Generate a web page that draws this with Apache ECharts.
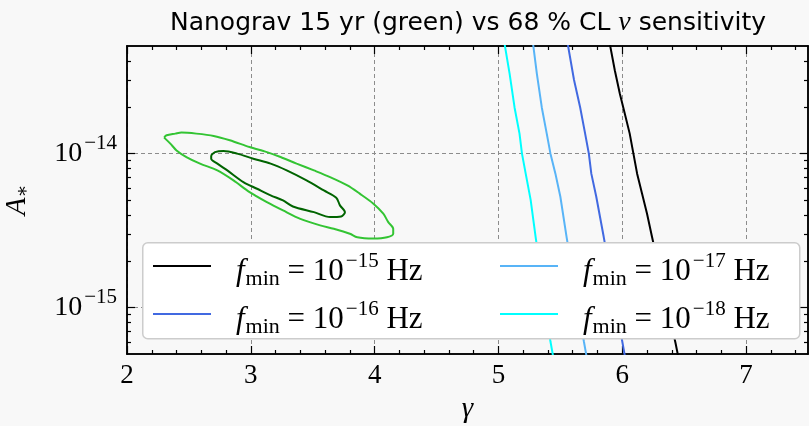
<!DOCTYPE html>
<html>
<head>
<meta charset="utf-8">
<title>Nanograv 15 yr vs nu sensitivity</title>
<script src="https://cdn.jsdelivr.net/npm/echarts@6/dist/echarts.min.js"></script>
<style>
  html, body { margin: 0; padding: 0; background: #f8f8f8; }
  #chart { width: 809px; height: 426px; }
</style>
</head>
<body>
<div id="chart"></div>
<script>
// values: gamma on x, log10(A*) on y
var gammaF15 = [5.90, 5.94, 5.98, 6.02, 6.06, 6.09, 6.12, 6.16, 6.20, 6.24, 6.43, 6.45];
var logAF15  = [-13.29, -13.46, -13.61, -13.74, -13.87, -14.00, -14.13, -14.26, -14.39, -14.54, -15.23, -15.31];
var gammaF16 = [5.56, 5.61, 5.66, 5.70, 5.73, 5.75, 5.79, 5.85, 6.00, 6.02];
var logAF16  = [-13.29, -13.52, -13.70, -13.87, -14.00, -14.13, -14.28, -14.54, -15.22, -15.31];
var gammaF17 = [5.28, 5.31, 5.35, 5.39, 5.42, 5.46, 5.50, 5.55, 5.69, 5.71];
var logAF17  = [-13.29, -13.48, -13.70, -13.87, -14.00, -14.13, -14.28, -14.54, -15.22, -15.31];
var gammaF18 = [5.05, 5.09, 5.13, 5.17, 5.19, 5.22, 5.26, 5.30, 5.42, 5.44];
var logAF18  = [-13.29, -13.48, -13.70, -13.87, -14.00, -14.13, -14.30, -14.54, -15.22, -15.31];

// nanograv contours (outer = light green, inner = dark green)
var gammaOuter = [2.30, 2.32, 2.39, 2.44, 2.56, 2.70, 2.83, 2.99, 3.13, 3.24, 3.37, 3.51, 3.64, 3.78, 3.88, 3.99, 4.07, 4.11, 4.15, 4.15, 4.10, 3.99, 3.86, 3.80, 3.67, 3.56, 3.40, 3.26, 3.13, 2.99, 2.86, 2.73, 2.59, 2.48, 2.40, 2.35, 2.30];
var logAOuter  = [-13.896, -13.881, -13.870, -13.863, -13.870, -13.885, -13.913, -13.957, -13.990, -14.022, -14.065, -14.109, -14.152, -14.206, -14.260, -14.325, -14.390, -14.445, -14.488, -14.520, -14.543, -14.551, -14.543, -14.520, -14.488, -14.466, -14.424, -14.369, -14.315, -14.250, -14.174, -14.109, -14.065, -14.022, -13.979, -13.935, -13.896];
var gammaInner = [2.68, 2.71, 2.78, 2.89, 3.02, 3.16, 3.29, 3.45, 3.59, 3.69, 3.72, 3.76, 3.73, 3.64, 3.51, 3.34, 3.26, 3.16, 3.05, 2.94, 2.81, 2.73, 2.68, 2.68];
var logAInner  = [-14.011, -13.990, -13.983, -14.000, -14.033, -14.065, -14.109, -14.174, -14.239, -14.286, -14.336, -14.380, -14.408, -14.412, -14.380, -14.343, -14.304, -14.271, -14.228, -14.185, -14.109, -14.065, -14.033, -14.011];

// legend entries
var nuNames = ["f15", "f16", "f17", "f18"];
var nuExp = { f15: "−15", f16: "−16", f17: "−17", f18: "−18" };

// tick values
var xMajor = [2, 3, 4, 5, 6, 7];
var yMajor = [-15, -14];

var X_MIN = 2, X_MAX = 7.5;
var Y_MIN = Math.log10(5e-16), Y_MAX = Math.log10(5e-14);

var xMinor = [];
for (var i = 1; i < 28; i++) {
  var v = +(2 + i * 0.2).toFixed(1);
  if (v % 1 !== 0) xMinor.push(v);
}
var yMinor = [];
[-16, -15, -14].forEach(function (n) {
  for (var k = 2; k <= 9; k++) {
    var lv = Math.log10(k) + n;
    if (lv > Y_MIN + 1e-6 && lv < Y_MAX - 1e-6) yMinor.push(lv);
  }
});

function zip(xs, ys) {
  return xs.map(function (x, i) { return [x, ys[i]]; });
}

var SERIF = "'Liberation Serif', 'DejaVu Serif', serif";

var chart = echarts.init(document.getElementById("chart"));

function tickAxis(kind, pos, ticks, len) {
  return {
    type: "value",
    position: pos,
    min: kind === "x" ? X_MIN : Y_MIN,
    max: kind === "x" ? X_MAX : Y_MAX,
    axisLine: { show: true, onZero: false, lineStyle: { color: "#000", width: 1.5 } },
    axisTick: { show: true, inside: true, length: len, customValues: ticks, lineStyle: { color: "#000", width: 1.2 } },
    axisLabel: { show: false },
    splitLine: { show: false }
  };
}

var xBottom = tickAxis("x", "bottom", xMajor, 8);
xBottom.axisLabel = {
  show: true, customValues: xMajor, margin: 8, color: "#000",
  fontFamily: SERIF, fontSize: 27
};
xBottom.splitLine = { show: true, lineStyle: { color: "#8c8c8c", type: [4, 3], width: 1 } };
xBottom.name = "γ";
xBottom.nameLocation = "middle";
xBottom.nameGap = 41;
xBottom.nameTextStyle = { fontFamily: SERIF, fontStyle: "italic", fontSize: 29, color: "#000" };

var yLeft = tickAxis("y", "left", yMajor, 8);
yLeft.axisLabel = {
  show: true, customValues: yMajor, margin: 10,
  formatter: function (v) { return "{b|10}{s|−" + Math.round(-v) + "}"; },
  rich: {
    b: { fontFamily: SERIF, fontSize: 28, color: "#000" },
    s: { fontFamily: SERIF, fontSize: 21, color: "#000", padding: [0, 0, 20, 2] }
  }
};
yLeft.splitLine = { show: true, lineStyle: { color: "#8c8c8c", type: [4, 3], width: 1 } };
yLeft.name = "{a|A}{s|∗}";
yLeft.nameLocation = "middle";
yLeft.nameGap = 94;
yLeft.nameTextStyle = {
  rich: {
    a: { fontFamily: SERIF, fontStyle: "italic", fontSize: 29, color: "#000" },
    s: { fontFamily: SERIF, fontSize: 19, color: "#000", padding: [12, 0, 0, 0] }
  }
};

function legendFormatter(name) {
  return "{f|f}{m|min}{t| = 10}{e|" + nuExp[name] + "}{h| Hz}";
}
// every token pushed down a little so the text sits under the handle like the original
var legendRich = {
  f: { fontFamily: SERIF, fontStyle: "italic", fontSize: 31, color: "#000", padding: [12, 0, 0, 20] },
  m: { fontFamily: SERIF, fontSize: 22, color: "#000", padding: [26, 0, 0, 1] },
  t: { fontFamily: SERIF, fontSize: 31, color: "#000", padding: [12, 0, 0, 0] },
  e: { fontFamily: SERIF, fontSize: 21, color: "#000", padding: [0, 0, 10, 2] },
  h: { fontFamily: SERIF, fontSize: 31, color: "#000", padding: [12, 0, 0, 0] }
};
function legendAt(left, names) {
  return {
    data: names, orient: "vertical", left: left, top: 246, padding: 0,
    icon: "rect", itemWidth: 58, itemHeight: 2, itemGap: 4,
    selectedMode: false, formatter: legendFormatter,
    textStyle: { rich: legendRich, lineHeight: 40 }
  };
}

function nuSeries(name, color, xs, ys) {
  return {
    name: name, type: "line", data: zip(xs, ys),
    showSymbol: false, symbol: "none", z: 2,
    lineStyle: { color: color, width: 2 }, itemStyle: { color: color }
  };
}
function contour(name, color, xs, ys) {
  return {
    name: name, type: "line", data: zip(xs, ys), smooth: 0.3,
    showSymbol: false, symbol: "none", z: 2,
    lineStyle: { color: color, width: 2 }, itemStyle: { color: color }
  };
}

var option = {
  animation: false,
  backgroundColor: "#f8f8f8",
  title: {
    text: "{t|Nanograv 15 yr (green) vs 68 % CL }{n|ν}{t| sensitivity}",
    left: 468, top: 9, padding: 0, textAlign: "center",
    textStyle: {
      rich: {
        t: { fontFamily: "'DejaVu Sans', sans-serif", fontWeight: "normal", fontSize: 25, color: "#000" },
        n: { fontFamily: SERIF, fontStyle: "italic", fontWeight: "normal", fontSize: 28, color: "#000" }
      }
    }
  },
  grid: { left: 127, right: 1, top: 46, bottom: 72, containLabel: false, outerBoundsMode: "none" },
  xAxis: [
    xBottom,
    tickAxis("x", "bottom", xMinor, 4),
    tickAxis("x", "top", xMajor, 8),
    tickAxis("x", "top", xMinor, 4)
  ],
  yAxis: [
    yLeft,
    tickAxis("y", "left", yMinor, 4),
    tickAxis("y", "right", yMajor, 8),
    tickAxis("y", "right", yMinor, 4)
  ],
  legend: [legendAt(153, ["f15", "f16"]), legendAt(500, ["f17", "f18"])],
  graphic: [{
    type: "rect", left: 142, top: 242, z: 3,
    shape: { width: 657, height: 96, r: 5 },
    style: { fill: "#ffffff", stroke: "#cccccc", lineWidth: 1.5 }
  }],
  series: [
    contour("outer", "#33c433", gammaOuter, logAOuter),
    contour("inner", "#006400", gammaInner, logAInner),
    nuSeries("f15", "#000000", gammaF15, logAF15),
    nuSeries("f16", "#4169e1", gammaF16, logAF16),
    nuSeries("f17", "#58b4f7", gammaF17, logAF17),
    nuSeries("f18", "#00ffff", gammaF18, logAF18)
  ]
};

chart.setOption(option);
window.onresize = chart.resize;
</script>
</body>
</html>
